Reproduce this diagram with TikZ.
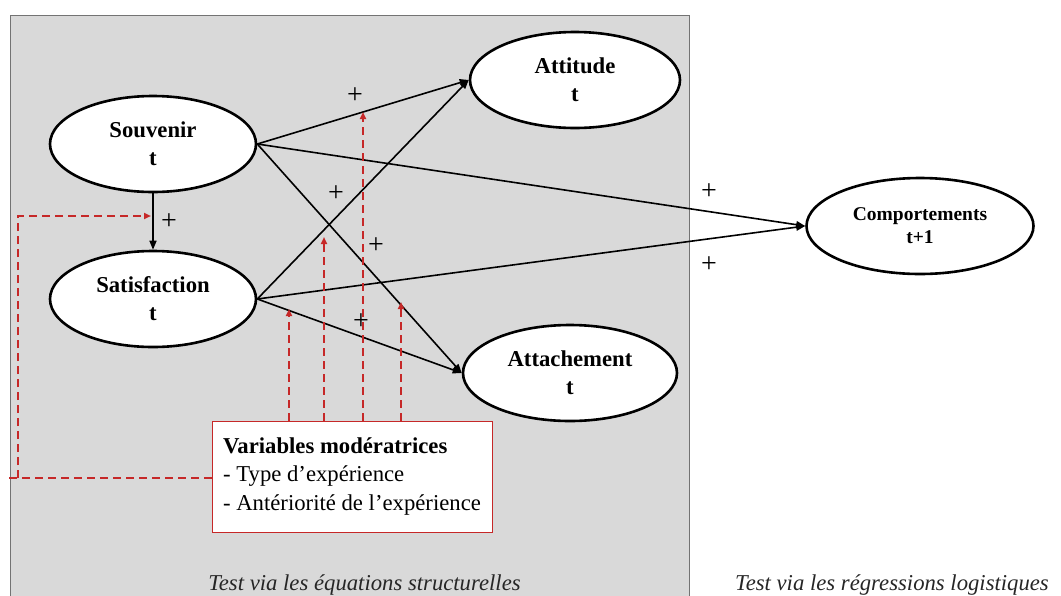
\documentclass[tikz,border=0pt]{standalone}
\usepackage{fontspec}
\setmainfont{Liberation Serif}
\usetikzlibrary{shapes.geometric,arrows.meta}
\definecolor{modred}{HTML}{C62828}
\definecolor{panel}{HTML}{D9D9D9}
\begin{document}
\begin{tikzpicture}[x=1pt,y=-1pt,
  latent/.style={ellipse,draw=black,line width=2.6pt,fill=white,inner sep=0pt,align=center,
    font=\fontsize{22.7}{28}\selectfont\bfseries},
  effect/.style={line width=1.6pt,-{Triangle[length=9pt,width=7pt]}},
  moddash/.style={draw=modred,line width=2.2pt,dash pattern=on 8pt off 5pt},
  modpath/.style={moddash,-{Triangle[length=7pt,width=6pt]}},
  sign/.style={font=\fontsize{28}{30}\selectfont,inner sep=0pt},
  note/.style={font=\fontsize{22.7}{28}\selectfont\itshape,anchor=base,inner sep=0pt,text=black!85}]
\useasboundingbox (0,0) rectangle (1061,595);
\fill[panel,draw=black!55,line width=1pt] (10,15) rectangle (689,605);

\node[latent,minimum width=206pt,minimum height=96pt] (souv) at (153,144) {Souvenir\\t};
\node[latent,minimum width=206pt,minimum height=96pt] (sat) at (153,299) {Satisfaction\\t};
\node[latent,minimum width=210pt,minimum height=96pt] (att) at (575,80) {Attitude\\t};
\node[latent,minimum width=214pt,minimum height=96pt] (attach) at (570,373) {Attachement\\t};
\node[latent,minimum width=227pt,minimum height=96pt,font=\fontsize{19.5}{23}\selectfont\bfseries] (comp) at (920,226) {Comportements\\t+1};

\node[draw=modred,line width=1pt,fill=white,minimum width=280pt,minimum height=111pt,
  align=left,inner sep=0pt,font=\fontsize{22.7}{28.5}\selectfont] (mod) at (352,476.5)
  {\textbf{Variables modératrices}\\- Type d’expérience\\- Antériorité de l’expérience};

\draw[effect] (souv.south) -- (sat.north);
\draw[effect] (souv.east) -- (att.west);
\draw[effect] (souv.east) -- (comp.west);
\draw[effect] (souv.east) -- (attach.west);
\draw[effect] (sat.east) -- (att.west);
\draw[effect] (sat.east) -- (comp.west);
\draw[effect] (sat.east) -- (attach.west);

\coordinate (lend) at (8,478);
\coordinate (lcorner) at (18,478);
\coordinate (m0) at (151,216);
\coordinate (m1) at (289,309);
\coordinate (m2) at (324,237);
\coordinate (m3) at (363,112);
\coordinate (m4) at (401,302);

\draw[moddash] (mod.west |- lend) -- (lend);
\draw[modpath] (lcorner) |- (m0);
\draw[modpath] (m1 |- mod.north) -- (m1);
\draw[modpath] (m2 |- mod.north) -- (m2);
\draw[modpath] (m3 |- mod.north) -- (m3);
\draw[modpath] (m4 |- mod.north) -- (m4);

\node[sign] (p1) at (355,96) {+};
\node[sign] (p2) at (169,222) {+};
\node[sign] (p3) at (336,194) {+};
\node[sign] (p4) at (376,246) {+};
\node[sign] (p5) at (361,322) {+};
\node[sign] (p6) at (709,192) {+};
\node[sign] (p7) at (709,265) {+};

\node[note] (n1) at (364.5,590) {Test via les équations structurelles};
\node[note] (n2) at (892,590) {Test via les régressions logistiques};
\end{tikzpicture}
\end{document}
